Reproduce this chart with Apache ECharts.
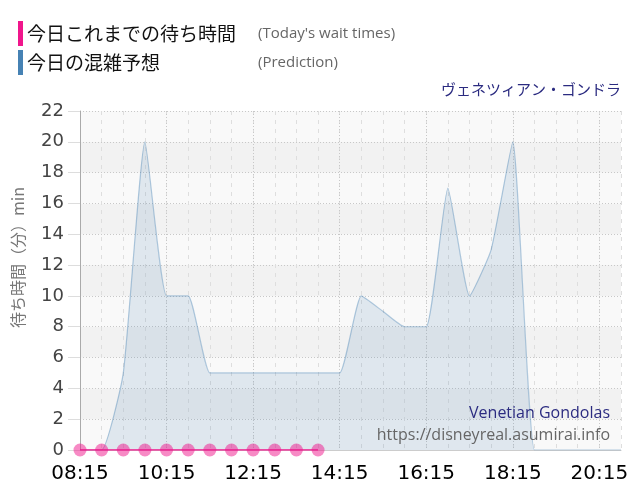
<!DOCTYPE html>
<html><head><meta charset="utf-8">
<script src="https://cdn.jsdelivr.net/npm/echarts@6/dist/echarts.min.js"></script>
<style>html,body{margin:0;padding:0;background:#fff}#c{width:640px;height:500px}</style>
</head><body><div id="c"></div>
<script>
const times = ['08:15','08:45','09:15','09:45','10:15','10:45','11:15','11:45','12:15','12:45','13:15','13:45','14:15','14:45','15:15','15:45','16:15','16:45','17:15','17:45','18:15','18:45','19:15','19:45','20:15','20:45'];
const prediction = [0,0,5,20,10,10,5,5,5,5,5,5,5,10,9,8,8,17,10,13,20,0,0,0,0,0];
const todayWait = [0,0,0,0,0,0,0,0,0,0,0,0,null,null,null,null,null,null,null,null,null,null,null,null,null,null];
const yMin = 0, yMax = 22, yStep = 2;
const seriesNames = ['今日これまでの待ち時間', '今日の混雑予想'];
const seriesNotes = ["(Today's wait times)", '(Prediction)'];
const attractionJa = 'ヴェネツィアン・ゴンドラ';
const attractionEn = 'Venetian Gondolas';
const siteUrl = 'https://disneyreal.asumirai.info';
const yAxisName = '待ち時間（分）min';

const JA = '"Noto Sans CJK JP", "Noto Sans", sans-serif';
const LAT = '"Open Sans", "Noto Sans", sans-serif';
const chart = echarts.init(document.getElementById('c'));
chart.setOption({
  animation: false,
  backgroundColor: '#fff',
  textStyle: { fontFamily: JA },
  title: {
    text: attractionJa, right: 19, top: 82, padding: 0,
    textStyle: { fontSize: 15, fontWeight: 'normal', color: '#2b2b80', fontFamily: JA }
  },
  legend: {
    orient: 'vertical', left: 13, top: 16, itemGap: 4, padding: 5,
    icon: 'rect', itemWidth: 5, itemHeight: 25, selectedMode: false,
    data: [
      { name: seriesNames[0], itemStyle: { color: '#f0168c' } },
      { name: seriesNames[1], itemStyle: { color: '#4682b4' } }
    ],
    formatter: function (n) {
      const i = seriesNames.indexOf(n);
      return '{a|' + n + '}{b|' + seriesNotes[i] + '}';
    },
    textStyle: {
      padding: [0, 0, 0, -1],
      rich: {
        a: { fontSize: 19, color: '#111', width: 231, fontFamily: JA },
        b: { fontSize: 15, color: '#666', fontFamily: LAT }
      }
    }
  },
  grid: { left: 80, right: 19, top: 111, bottom: 50, containLabel: false },
  xAxis: [{
    type: 'category', data: times, boundaryGap: false,
    axisLine: { show: true, lineStyle: { color: '#ccc' } },
    axisTick: { show: false },
    axisLabel: { interval: 3, fontSize: 20, color: '#000', margin: 14, fontFamily: '"DejaVu Sans", sans-serif' },
    splitLine: { show: true, interval: 0, lineStyle: { color: '#dedede', type: [4, 5] } }
  }, {
    type: 'category', data: times, boundaryGap: false, position: 'bottom',
    axisLine: { show: false }, axisTick: { show: false }, axisLabel: { show: false },
    splitLine: { show: true, interval: 3, lineStyle: { color: '#c8c8c8', type: [1, 2] } }
  }],
  yAxis: {
    type: 'value', min: yMin, max: yMax, interval: yStep,
    name: yAxisName, nameLocation: 'middle', nameGap: 54, nameRotate: 90,
    nameTextStyle: { fontSize: 16, color: '#777', fontFamily: JA, padding: [0, 0, 0, 46] },
    axisLine: { show: true, lineStyle: { color: '#aaa' } },
    axisTick: { show: true, length: 12, lineStyle: { color: '#ddd' } },
    axisLabel: { fontSize: 18, color: '#444', margin: 16, fontFamily: '"DejaVu Sans", sans-serif' },
    splitLine: { show: true, lineStyle: { color: '#c8c8c8', type: [1, 2] } },
    splitArea: { show: true, areaStyle: { color: ['#f9f9f9', '#f2f2f2'] } }
  },
  series: [{
    name: seriesNames[1], type: 'line', data: prediction, smooth: 0.15,
    showSymbol: false, symbol: 'none',
    lineStyle: { color: 'rgba(70,130,180,0.4)', width: 1.2 },
    itemStyle: { color: '#4682b4' },
    areaStyle: { color: 'rgba(70,130,180,0.2)' },
    z: 2
  }, {
    name: seriesNames[0], type: 'line', data: todayWait,
    symbol: 'circle', symbolSize: 13,
    lineStyle: { color: '#f0168c', width: 1.5 },
    itemStyle: { color: 'rgba(240,22,140,0.5)' },
    z: 3
  }],
  graphic: [{
    type: 'text', right: 30, top: 405, z: 100,
    style: { text: attractionEn, fontSize: 16, fill: '#2b2b80', fontFamily: LAT }
  }, {
    type: 'text', right: 30, top: 427, z: 100,
    style: { text: siteUrl, fontSize: 16, fill: '#666', fontFamily: LAT }
  }]
});
</script></body></html>
